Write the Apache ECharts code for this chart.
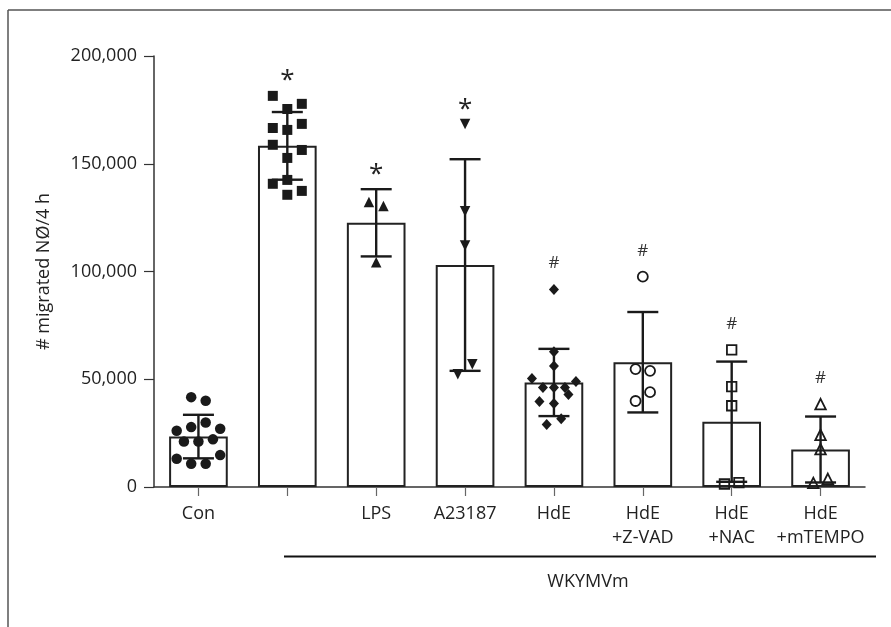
<!DOCTYPE html>
<html><head><meta charset="utf-8">
<script src="https://cdn.jsdelivr.net/npm/echarts/dist/echarts.min.js"></script>
<style>html,body{margin:0;padding:0;background:#fff}#c{width:891px;height:627px}</style>
</head><body><div id="c"></div>
<script>
// ---------- data ----------
const categories = ['Con', '', 'LPS', 'A23187', 'HdE', 'HdE\n+Z-VAD', 'HdE\n+NAC', 'HdE\n+mTEMPO'];
const yMin = 0, yMax = 200000, yStep = 50000;
const yName = '# migrated N\u00D8/4 h';
const groupLabel = 'WKYMVm';
const means = [23400, 158300, 122600, 103000, 48500, 57900, 30300, 17400];
const sds   = [10100, 15700, 15600, 49100, 15600, 23300, 27900, 15300];
const sigMarks = ['', '*', '*', '*', '#', '#', '#', '#'];
const ptsCon    = [41700, 40000, 26100, 27800, 29900, 27000, 21100, 21100, 22100, 13100, 10800, 10800, 14800];
const ptsWKY    = [181500, 175400, 177800, 166600, 165700, 168500, 158800, 152700, 156400, 140700, 142500, 137400, 135600];
const ptsLPS    = [132300, 130400, 104300];
const ptsA23187 = [168400, 128000, 112100, 52300, 57000];
const ptsHdE    = [91600, 62800, 56200, 50300, 46200, 46200, 46200, 48900, 39700, 38700, 42900, 29000, 31700];
const ptsZVAD   = [97600, 54700, 53900, 39900, 44000];
const ptsNAC    = [63600, 46600, 37700, 1400, 2000];
const ptsMTEMPO = [38500, 24200, 17600, 1900, 3800];
const groups = [ptsCon, ptsWKY, ptsLPS, ptsA23187, ptsHdE, ptsZVAD, ptsNAC, ptsMTEMPO];

// ---------- layout / style ----------
const W = 891, H = 627;
const grid = {left: 154, top: 56, right: 26, bottom: 140};
const plotH = H - grid.top - grid.bottom;
const pxPerUnit = plotH / (yMax - yMin);
const FONT = 'Open Sans';
const FS = 18;
const INK = '#1a1a1a';
const TXT = '#222';

const markStyles = [
  {symbol: 'circle', size: 10.5, open: false},
  {symbol: 'rect', size: 10, open: false},
  {symbol: 'triangle', size: 10.5, open: false},
  {symbol: 'triangle', size: 10.5, open: false, rotate: 180},
  {symbol: 'diamond', size: [10, 11], open: false},
  {symbol: 'circle', size: 10, open: true},
  {symbol: 'rect', size: 9.5, open: true},
  {symbol: 'triangle', size: 10.5, open: true}
];

// Prism-like row layout for dot scatter: points with close values share a row, centred on the bar
function rowOffsets(vals) {
  const order = vals.map((v, i) => i).sort((a, b) => vals[b] - vals[a] || a - b);
  const rows = [];
  let cur = null, start = 0, prev = 0;
  const gapMax = 11.5, spanMax = 14;
  order.forEach(i => {
    const v = vals[i];
    if (cur && (prev - v) * pxPerUnit < gapMax && (start - v) * pxPerUnit < spanMax) {
      cur.push(i);
    } else {
      cur = [i]; rows.push(cur); start = v;
    }
    prev = v;
  });
  const off = new Array(vals.length).fill(0);
  rows.forEach(r => {
    r.sort((a, b) => a - b);
    const n = r.length;
    const sp = n > 1 ? Math.min(14.5, 44 / (n - 1)) : 0;
    r.forEach((idx, k) => { off[idx] = (k - (n - 1) / 2) * sp; });
  });
  return off;
}

const scatterSeries = groups.map((vals, gi) => {
  const st = markStyles[gi];
  const offs = rowOffsets(vals);
  return {
    type: 'scatter', z: 5, silent: true,
    symbol: st.symbol, symbolSize: st.size, symbolRotate: st.rotate || 0,
    itemStyle: st.open
      ? {color: 'rgba(255,255,255,0)', borderColor: INK, borderWidth: 1.8, opacity: 1}
      : {color: INK, borderWidth: 0, opacity: 1},
    data: vals.map((v, k) => ({value: [gi, v], symbolOffset: [offs[k], 0]}))
  };
});

const chart = echarts.init(document.getElementById('c'), null, {renderer: 'canvas'});
chart.setOption({
  animation: false,
  backgroundColor: '#fff',
  grid: Object.assign({outerBoundsMode: 'none', containLabel: false}, grid),
  xAxis: {
    type: 'category', data: categories,
    axisLine: {show: true, lineStyle: {color: '#333', width: 1.5}},
    axisTick: {show: true, alignWithLabel: true, length: 9, lineStyle: {color: '#666', width: 1.2}},
    axisLabel: {interval: 0, margin: 15, color: TXT, fontFamily: FONT, fontSize: FS, lineHeight: 24},
    splitLine: {show: false}
  },
  yAxis: {
    type: 'value', min: yMin, max: yMax, interval: yStep,
    name: yName, nameLocation: 'middle', nameGap: 101, nameRotate: 90,
    nameTextStyle: {color: TXT, fontFamily: FONT, fontSize: FS},
    axisLine: {show: true, lineStyle: {color: '#333', width: 1.5}},
    axisTick: {show: true, length: 10, lineStyle: {color: '#333', width: 1.2}},
    axisLabel: {margin: 17, color: TXT, fontFamily: FONT, fontSize: FS,
      formatter: v => v.toLocaleString('en-US')},
    splitLine: {show: false}
  },
  series: [
    {
      type: 'bar', z: 2, silent: true, barWidth: '66%',
      itemStyle: {color: '#fff', borderColor: '#222', borderWidth: 2},
      data: means
    },
    {
      type: 'custom', z: 4, silent: true,
      data: means.map((m, i) => [i, m, sds[i]]),
      renderItem: (params, api) => {
        const i = api.value(0), m = api.value(1), s = api.value(2);
        const top = api.coord([i, m + s]);
        const bot = api.coord([i, m - s]);
        const half = 15.5;
        const st = {stroke: INK, lineWidth: 2.4};
        return {type: 'group', children: [
          {type: 'line', shape: {x1: top[0], y1: top[1], x2: bot[0], y2: bot[1]}, style: st},
          {type: 'line', shape: {x1: top[0] - half, y1: top[1], x2: top[0] + half, y2: top[1]}, style: st},
          {type: 'line', shape: {x1: bot[0] - half, y1: bot[1], x2: bot[0] + half, y2: bot[1]}, style: st}
        ]};
      }
    },
    {
      type: 'custom', z: 6, silent: true,
      data: sigMarks.map((t, i) => [i, Math.max(means[i] + sds[i], Math.max.apply(null, groups[i]))]),
      renderItem: (params, api) => {
        const i = api.value(0);
        const mark = sigMarks[i];
        if (!mark) return null;
        const p = api.coord([i, api.value(1)]);
        const isStar = mark === '*';
        return {
          type: 'text', x: p[0], y: p[1] - (isStar ? 15 : 26),
          style: {text: mark, fill: isStar ? '#222' : '#333',
            font: (isStar ? '26px ' : '17px ') + FONT,
            align: 'center', verticalAlign: 'middle', textAlign: 'center', textVerticalAlign: 'middle'}
        };
      }
    }
  ].concat(scatterSeries),
  graphic: [
    {type: 'line', shape: {x1: 8, y1: 10, x2: W, y2: 10}, style: {stroke: '#555', lineWidth: 1.5}},
    {type: 'line', shape: {x1: 8, y1: 10, x2: 8, y2: H}, style: {stroke: '#555', lineWidth: 1.5}},
    {type: 'line', shape: {x1: 284, y1: 556.5, x2: 876, y2: 556.5}, style: {stroke: '#111', lineWidth: 2.2}},
    {type: 'text', x: 588, y: 582, style: {text: groupLabel, fill: TXT, font: FS + 'px ' + FONT,
      align: 'center', verticalAlign: 'middle', textAlign: 'center', textVerticalAlign: 'middle'}}
  ]
});
</script>
</body></html>
